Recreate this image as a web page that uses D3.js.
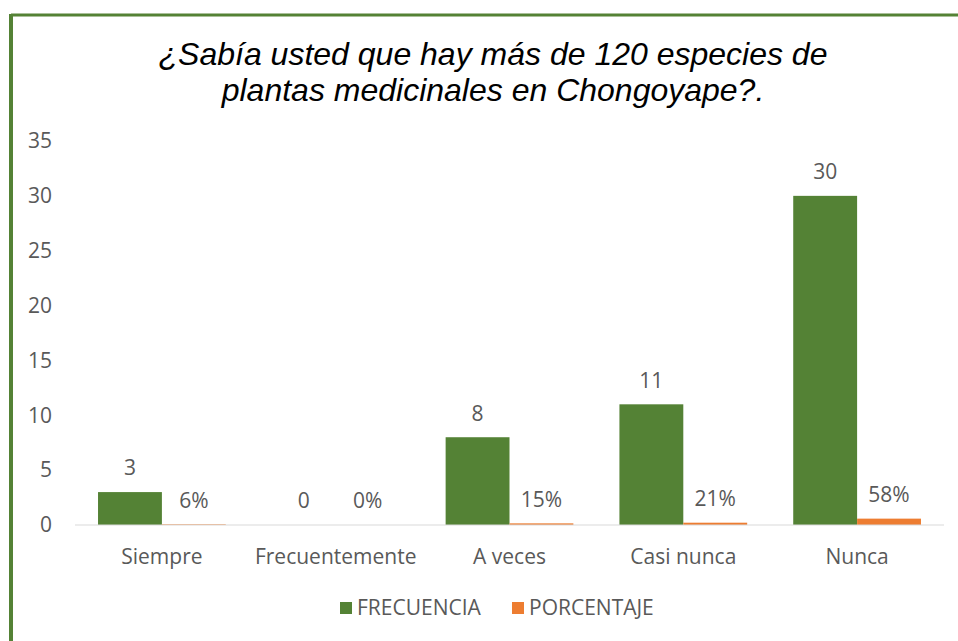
<!DOCTYPE html>
<html>
<head>
<meta charset="utf-8">
<script src="https://cdn.jsdelivr.net/npm/d3@7"></script>
<style>
  body { margin: 0; background: #fff; }
  svg { display: block; }
  text { font-family: "Open Sans", "Noto Sans", sans-serif; fill: #595959; }
</style>
</head>
<body>
<svg width="958" height="641"></svg>
<script>
const categories = ['Siempre', 'Frecuentemente', 'A veces', 'Casi nunca', 'Nunca'];
const frecuencia = [3, 0, 8, 11, 30];
const porcentaje = [0.06, 0, 0.15, 0.21, 0.58];
const yTicks = [0, 5, 10, 15, 20, 25, 30, 35];
const seriesNames = ['FRECUENCIA', 'PORCENTAJE'];
const colors = ['#548235', '#ED7D31'];

const svg = d3.select('svg');
const margin = { left: 75, right: 14, top: 141, bottom: 116 };
const width = 958, height = 641;
const fs = '21px';

// frame: green line on top and left
svg.append('line').attr('x1', 11).attr('x2', width).attr('y1', 15).attr('y2', 15)
   .attr('stroke', '#548235').attr('stroke-width', 3);
svg.append('line').attr('x1', 11).attr('x2', 11).attr('y1', 14).attr('y2', height)
   .attr('stroke', '#548235').attr('stroke-width', 4);

// title
const title = svg.append('text').attr('text-anchor', 'middle')
    .style('font-family', '"Liberation Sans", Arial, sans-serif')
    .style('font-style', 'italic').style('font-size', '32px').style('fill', '#000');
title.append('tspan').attr('x', 493).attr('y', 65).text('¿Sabía usted que hay más de 120 especies de');
title.append('tspan').attr('x', 493).attr('y', 101).text('plantas medicinales en Chongoyape?.');

const x = d3.scaleBand().domain(categories)
    .range([margin.left, width - margin.right]).paddingInner(0).paddingOuter(0);
const y = d3.scaleLinear().domain([0, 35]).range([height - margin.bottom, margin.top]);

const inner = x.bandwidth() * 0.735;
const x1 = d3.scaleBand().domain(seriesNames)
    .range([(x.bandwidth() - inner) / 2, (x.bandwidth() + inner) / 2]);

// y tick labels
svg.append('g').selectAll('text').data(yTicks).join('text')
    .attr('x', 52).attr('y', d => y(d)).attr('dy', '0.35em')
    .attr('text-anchor', 'end').style('font-size', fs).text(d => d);

const series = [frecuencia, porcentaje];
const labelFmt = [d => d, d => d3.format('.0%')(d)];

series.forEach((vals, si) => {
  const g = svg.append('g');
  g.selectAll('rect').data(vals).join('rect')
      .attr('x', (d, i) => x(categories[i]) + x1(seriesNames[si]))
      .attr('width', x1.bandwidth())
      .attr('y', d => y(d))
      .attr('height', d => y(0) - y(d))
      .attr('fill', colors[si]);
  g.selectAll('text').data(vals).join('text')
      .attr('x', (d, i) => x(categories[i]) + x1(seriesNames[si]) + x1.bandwidth() / 2)
      .attr('y', d => y(d) - 24)
      .attr('dy', '0.35em')
      .attr('text-anchor', 'middle').style('font-size', fs)
      .text(labelFmt[si]);
});

// baseline
svg.append('line').attr('x1', margin.left).attr('x2', width - margin.right)
   .attr('y1', y(0)).attr('y2', y(0)).attr('stroke', '#d9d9d9').attr('stroke-width', 1);

// category labels
svg.append('g').selectAll('text').data(categories).join('text')
    .attr('x', d => x(d) + x.bandwidth() / 2).attr('y', 557).attr('dy', '0.35em')
    .attr('text-anchor', 'middle').style('font-size', fs).text(d => d);

// legend
const legendX = [340, 512];
const legend = svg.append('g');
seriesNames.forEach((name, i) => {
  legend.append('rect').attr('x', legendX[i]).attr('y', 602).attr('width', 12).attr('height', 12)
      .attr('fill', colors[i]);
  legend.append('text').attr('x', legendX[i] + 17).attr('y', 608).attr('dy', '0.35em')
      .style('font-size', fs).text(name);
});
</script>
</body>
</html>
